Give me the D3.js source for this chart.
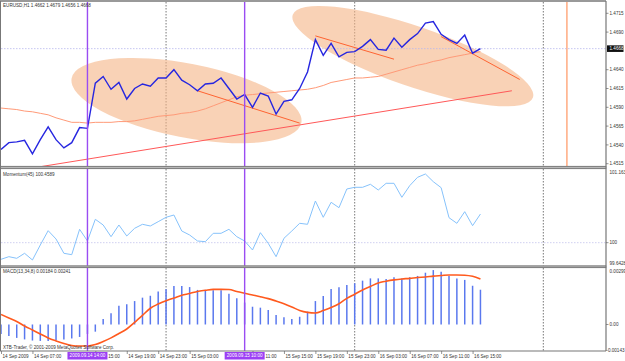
<!DOCTYPE html>
<html lang="en">
<head>
<meta charset="UTF-8">
<title>EURUSD,H1</title>
<script src="https://cdn.jsdelivr.net/npm/d3@7"></script>
<style>
  body { margin: 0; background: #fff; }
  svg text { font-family: "Liberation Sans", Arial, sans-serif; font-size: 4.6px; fill: #333; }
</style>
</head>
<body>
<svg width="625" height="361"></svg>
<script>
// hourly bars, 14 Sep 2009 03:00 .. 16 Sep 2009 16:00
var closes = [1.4534,1.4543,1.4544,1.4546,1.4528,1.4547,1.4564,1.4547,1.4536,1.4543,1.4563,1.4562,
  1.4622,1.4631,1.4614,1.4623,1.4601,1.4615,1.4621,1.4618,1.4629,1.4629,1.4640,1.4626,
  1.4620,1.4612,1.4621,1.4622,1.4629,1.4615,1.4601,1.4607,1.4590,1.4609,1.4605,1.4581,
  1.4598,1.4600,1.4615,1.4637,1.4680,1.4659,1.4675,1.4657,1.4663,1.4664,1.4671,1.4680,
  1.4667,1.4666,1.4682,1.4670,1.4680,1.4688,1.4702,1.4704,1.4687,1.4680,1.4675,1.4686,1.4662,1.4668];
var movingAvg = [1.4589,1.4588,1.4587,1.4585,1.4584,1.4582,1.4580,1.4576,1.4573,1.4570,1.4570,1.4569,
  1.4570,1.4570,1.4570,1.4571,1.4571,1.4572,1.4574,1.4576,1.4578,1.4579,1.4580,1.4582,
  1.4583,1.4585,1.4588,1.4592,1.4596,1.4600,1.4604,1.4606,1.4607,1.4608,1.4609,1.4610,
  1.4611,1.4612,1.4613,1.4614,1.4616,1.4619,1.4623,1.4625,1.4627,1.4629,1.4629,1.4630,
  1.4631,1.4634,1.4637,1.4640,1.4643,1.4646,1.4648,1.4651,1.4653,1.4656,1.4658,1.4660,1.4662,1.4664];
var momentum = [99.734,99.776,99.750,99.830,99.723,99.963,100.192,100.059,99.830,99.808,100.214,100.027,
  100.374,100.283,100.096,100.283,100.107,100.230,100.294,100.267,100.336,100.406,100.443,100.187,
  100.123,100.027,100.016,100.150,100.150,100.214,100.096,100.027,99.883,100.160,99.990,99.776,
  100.070,100.187,100.310,100.294,100.667,100.406,100.646,100.560,100.859,100.886,100.886,100.934,
  100.843,100.950,100.950,100.726,100.912,101.046,101.099,100.976,100.880,100.400,100.310,100.496,100.272,100.4589];
var macdHist = [-0.00050,-0.00061,-0.00071,-0.00079,-0.00085,-0.00087,-0.00087,-0.00085,-0.00079,-0.00074,-0.00066,-0.00050,-0.00038,
  0.00029,0.00059,0.00099,0.00107,0.00124,0.00142,0.00152,0.00174,0.00186,0.00204,0.00204,0.00198,
  0.00183,0.00183,0.00181,0.00181,0.00163,0.00139,0.00116,0.00094,0.00089,0.00077,0.00050,0.00038,
  0.00029,0.00041,0.00068,0.00124,0.00151,0.00188,0.00197,0.00209,0.00218,0.00232,0.00244,0.00244,
  0.00241,0.00250,0.00244,0.00250,0.00257,0.00274,0.00288,0.00279,0.00257,0.00244,0.00236,0.00205,0.00184];
var macdSignal = [0.00053,0.00034,0.00016,-0.00008,-0.00029,-0.00050,-0.00071,-0.00087,-0.00101,-0.00111,-0.00114,-0.00114,
  -0.00106,-0.00090,-0.00071,-0.00048,-0.00024,0.00011,0.00048,0.00086,0.00108,0.00126,0.00140,0.00155,
  0.00164,0.00175,0.00181,0.00186,0.00186,0.00185,0.00175,0.00165,0.00156,0.00147,0.00137,0.00124,
  0.00110,0.00093,0.00074,0.00064,0.00061,0.00074,0.00090,0.00110,0.00138,0.00160,0.00183,0.00201,
  0.00220,0.00229,0.00236,0.00241,0.00244,0.00249,0.00251,0.00256,0.00259,0.00262,0.00262,0.00261,0.00255,0.00241];

var priceTicks = [1.4715, 1.4690, 1.4640, 1.4615, 1.4590, 1.4565, 1.4540, 1.4515];
var lastPrice = 1.4668;
var momTicks = [101.163, 100, 99.6428];
var macdTicks = [0.00299, 0.00, -0.00143];
var macdTickText = ["0.00299", "0.00", "-0.00143"];
// [bar index, label]; labels partly under the purple date boxes only show their tail
var timeLabels = [[0,"14 Sep 2009"],[4,"14 Sep 07:00"],[12,"15:00"],[16,"14 Sep 19:00"],
  [20,"14 Sep 23:00"],[24,"15 Sep 03:00"],[32,"11:00"],[36,"15 Sep 15:00"],
  [40,"15 Sep 19:00"],[44,"15 Sep 23:00"],[48,"16 Sep 03:00"],[52,"16 Sep 07:00"],[56,"16 Sep 11:00"],[60,"16 Sep 15:00"]];
var markerBars = [11, 31];
var markerLabels = ["2009.09.14 14:00", "2009.09.15 10:00"];
var daySeparators = [21, 45, 69];
var orangeBar = 72;
// trend lines: [bar1, price1, bar2, price2]
var trendLines = [[5,1.4511,65,1.4612],[25,1.4612,38,1.4569],[40,1.4685,50,1.4654],[56,1.4684,66,1.4627]];
// ellipses: centre [bar, price]
var ellipseCentres = [[23.6,1.4599],[52.4,1.4658]];

var svg = d3.select("svg");
var left = 1, right = 606;
var pr = { top: 2, bottom: 166 };
var mo = { top: 169, bottom: 265.5 };
var mc = { top: 268, bottom: 351 };

var x = d3.scaleLinear().domain([0, 77]).range([1, 606.2]);
var yP = d3.scaleLinear().domain([1.4515, 1.4715]).range([163.7, 13.3]);
var yM = d3.scaleLinear().domain([99.6428, 101.163]).range([265, 170]);
var yD = d3.scaleLinear().domain([-0.00143, 0.00299]).range([351.5, 268]);

svg.append("rect").attr("width", 625).attr("height", 361).attr("fill", "#fff");

var defs = svg.append("defs");
[["cp", pr], ["cm", mo], ["cd", mc]].forEach(function (c) {
  defs.append("clipPath").attr("id", c[0]).append("rect")
    .attr("x", left).attr("y", c[1].top).attr("width", right - left).attr("height", c[1].bottom - c[1].top);
});

// vertical lines across all panels
var vg = svg.append("g");
[pr, mo, mc].forEach(function (p) {
  vg.selectAll(null).data(daySeparators).enter().append("line")
    .attr("x1", function (d) { return x(d); }).attr("x2", function (d) { return x(d); })
    .attr("y1", p.top).attr("y2", p.bottom)
    .attr("stroke", "#555").attr("stroke-dasharray", "1.5,1.5").attr("stroke-width", 0.8);
});
vg.append("line").attr("x1", x(orangeBar)).attr("x2", x(orangeBar)).attr("y1", pr.top).attr("y2", pr.bottom)
  .attr("stroke", "#ffab80").attr("stroke-width", 1.5);

// price panel
var gp = svg.append("g").attr("clip-path", "url(#cp)");
var ell = [[117, 37, 11], [127, 30, 19]];
gp.selectAll(".ell").data(ellipseCentres).enter().append("ellipse")
  .attr("transform", function (d, i) { return "translate(" + x(d[0]) + "," + yP(d[1]) + ") rotate(" + ell[i][2] + ")"; })
  .attr("rx", function (d, i) { return ell[i][0]; })
  .attr("ry", function (d, i) { return ell[i][1]; })
  .attr("fill", "#f5b485").attr("fill-opacity", 0.6);

gp.append("line").attr("x1", left).attr("x2", right).attr("y1", yP(lastPrice)).attr("y2", yP(lastPrice))
  .attr("stroke", "#b8b8ee").attr("stroke-dasharray", "1.5,1.5").attr("stroke-width", 0.8);

var line = d3.line().x(function (d, i) { return x(i); });
gp.append("path").datum(movingAvg).attr("d", line.y(function (d) { return yP(d); }))
  .attr("fill", "none").attr("stroke", "#ff9a78").attr("stroke-width", 1);

gp.selectAll(".tl").data(trendLines).enter().append("line")
  .attr("x1", function (d) { return x(d[0]); }).attr("y1", function (d) { return yP(d[1]); })
  .attr("x2", function (d) { return x(d[2]); }).attr("y2", function (d) { return yP(d[3]); })
  .attr("stroke", function (d, i) { return i === 0 ? "#ff5858" : "#ff6432"; }).attr("stroke-width", 1);

gp.append("path").datum(closes).attr("d", line.y(function (d) { return yP(d); }))
  .attr("fill", "none").attr("stroke", "#2626e0").attr("stroke-width", 1.4);

// momentum panel
var gm = svg.append("g").attr("clip-path", "url(#cm)");
gm.append("line").attr("x1", left).attr("x2", right).attr("y1", yM(100)).attr("y2", yM(100))
  .attr("stroke", "#c4c4ee").attr("stroke-dasharray", "1.5,1.5").attr("stroke-width", 0.8);
gm.append("path").datum(momentum).attr("d", d3.line().x(function (d, i) { return x(i); }).y(function (d) { return yM(d); }))
  .attr("fill", "none").attr("stroke", "#86c2fb").attr("stroke-width", 1);

// macd panel
var gd = svg.append("g").attr("clip-path", "url(#cd)");
gd.selectAll(".bar").data(macdHist).enter().append("line")
  .attr("x1", function (d, i) { return x(i); }).attr("x2", function (d, i) { return x(i); })
  .attr("y1", yD(0)).attr("y2", function (d) { return yD(d); })
  .attr("stroke", "#5a78ee").attr("stroke-width", 1.5);
gd.append("path").datum(macdSignal)
  .attr("d", d3.line().curve(d3.curveMonotoneX).x(function (d, i) { return x(i); }).y(function (d) { return yD(d); }))
  .attr("fill", "none").attr("stroke", "#ff5a1e").attr("stroke-width", 1.6);

// purple markers on top
svg.selectAll(".mk").data(markerBars).enter().append("line")
  .attr("x1", function (d) { return x(d); }).attr("x2", function (d) { return x(d); })
  .attr("y1", pr.top).attr("y2", mc.bottom)
  .attr("stroke", "#9a4cf2").attr("stroke-width", 1.4);

// frames and separators
var fr = svg.append("g");
fr.append("line").attr("x1", 0).attr("x2", right).attr("y1", 1).attr("y2", 1).attr("stroke", "#777").attr("stroke-width", 1.5);
[[pr.bottom, mo.top], [mo.bottom, mc.top]].forEach(function (s) {
  fr.append("rect").attr("x", 0).attr("y", s[0]).attr("width", right + 0.5).attr("height", s[1] - s[0])
    .attr("fill", "#b8b8b8");
  fr.append("line").attr("x1", 0).attr("x2", right).attr("y1", s[0] + 0.4).attr("y2", s[0] + 0.4).attr("stroke", "#6d6d6d").attr("stroke-width", 0.8);
  fr.append("line").attr("x1", 0).attr("x2", right).attr("y1", s[1] - 0.4).attr("y2", s[1] - 0.4).attr("stroke", "#6d6d6d").attr("stroke-width", 0.8);
});
fr.append("line").attr("x1", 0).attr("x2", right).attr("y1", mc.bottom).attr("y2", mc.bottom).attr("stroke", "#777").attr("stroke-width", 1.2);
fr.append("line").attr("x1", 0.5).attr("x2", 0.5).attr("y1", 1).attr("y2", mc.bottom).attr("stroke", "#777").attr("stroke-width", 1);
fr.append("line").attr("x1", right).attr("x2", right).attr("y1", 1).attr("y2", mc.bottom).attr("stroke", "#777").attr("stroke-width", 1.2);

// right axes
function rightAxis(scale, ticks, fmt) {
  var g = svg.append("g");
  g.selectAll("line").data(ticks).enter().append("line")
    .attr("x1", right).attr("x2", right + 2.5)
    .attr("y1", function (d) { return scale(d); }).attr("y2", function (d) { return scale(d); })
    .attr("stroke", "#666").attr("stroke-width", 0.7);
  g.selectAll("text").data(ticks).enter().append("text")
    .attr("x", right + 3.5).attr("y", function (d) { return scale(d) + 1.6; })
    .text(fmt);
  return g;
}
rightAxis(yP, priceTicks, function (d) { return d.toFixed(4); });
var lp = svg.append("g").attr("transform", "translate(" + (right + 1) + "," + yP(lastPrice) + ")");
lp.append("rect").attr("x", 0).attr("y", -3.3).attr("width", 16.5).attr("height", 6.6).attr("fill", "#111");
lp.append("text").attr("x", 2.5).attr("y", 1.6).style("fill", "#fff").text(lastPrice.toFixed(4));

var momG = svg.append("g");
momG.selectAll("text").data(momTicks).enter().append("text")
  .attr("x", right + 3.5)
  .attr("y", function (d, i) { return i === 0 ? mo.top + 5 : (i === 2 ? mo.bottom - 0.8 : yM(d) + 1.6); })
  .text(function (d) { return String(d); });
momG.append("line").attr("x1", right).attr("x2", right + 2.5).attr("y1", yM(100)).attr("y2", yM(100)).attr("stroke", "#666").attr("stroke-width", 0.7);

var mcG = svg.append("g");
mcG.selectAll("text").data(macdTicks).enter().append("text")
  .attr("x", function (d, i) { return i === 2 ? 624.5 : right + 3.5; })
  .attr("text-anchor", function (d, i) { return i === 2 ? "end" : "start"; })
  .attr("y", function (d, i) { return i === 0 ? mc.top + 4.6 : (i === 2 ? mc.bottom + 0.6 : yD(d) + 1.6); })
  .text(function (d, i) { return macdTickText[i]; });
mcG.append("line").attr("x1", right).attr("x2", right + 2.5).attr("y1", yD(0)).attr("y2", yD(0)).attr("stroke", "#666").attr("stroke-width", 0.7);

// time axis
var boxHalf = 20;
function labelX(bar) {
  var lx = x(bar) + 1.5;
  markerBars.forEach(function (m) {
    if (lx > x(m) - boxHalf - 3 && lx < x(m) + boxHalf) lx = x(m) + boxHalf + 0.8;
  });
  return lx;
}
var ta = svg.append("g");
ta.selectAll("line").data(timeLabels).enter().append("line")
  .attr("x1", function (d) { return x(d[0]) + 0.5; }).attr("x2", function (d) { return x(d[0]) + 0.5; })
  .attr("y1", mc.bottom).attr("y2", mc.bottom + 3).attr("stroke", "#666").attr("stroke-width", 0.7);
ta.selectAll("text").data(timeLabels).enter().append("text")
  .attr("x", function (d) { return labelX(d[0]); }).attr("y", 357.5)
  .text(function (d) { return d[1]; });

var mb = svg.selectAll(".mb").data(markerBars).enter().append("g")
  .attr("transform", function (d) { return "translate(" + x(d) + ",352)"; });
mb.append("rect").attr("x", -boxHalf).attr("y", 0).attr("width", boxHalf * 2).attr("height", 7.5).attr("fill", "#9c40f4");
mb.append("text").attr("x", 0).attr("y", 5.4).attr("text-anchor", "middle").style("fill", "#fff")
  .text(function (d, i) { return markerLabels[i]; });

// window captions
svg.append("text").attr("x", 3).attr("y", 6.8).text("EURUSD,H1 1.4662 1.4679 1.4656 1.4668");
svg.append("text").attr("x", 3).attr("y", 175.5).text("Momentum(45) 100.4589");
svg.append("text").attr("x", 3).attr("y", 272.5).text("MACD(13,34,8) 0.00184 0.00241");
svg.append("text").attr("x", 3).attr("y", 349).text("XTB-Trader, \u00a9 2001-2009 MetaQuotes Software Corp.");
</script>
</body>
</html>
